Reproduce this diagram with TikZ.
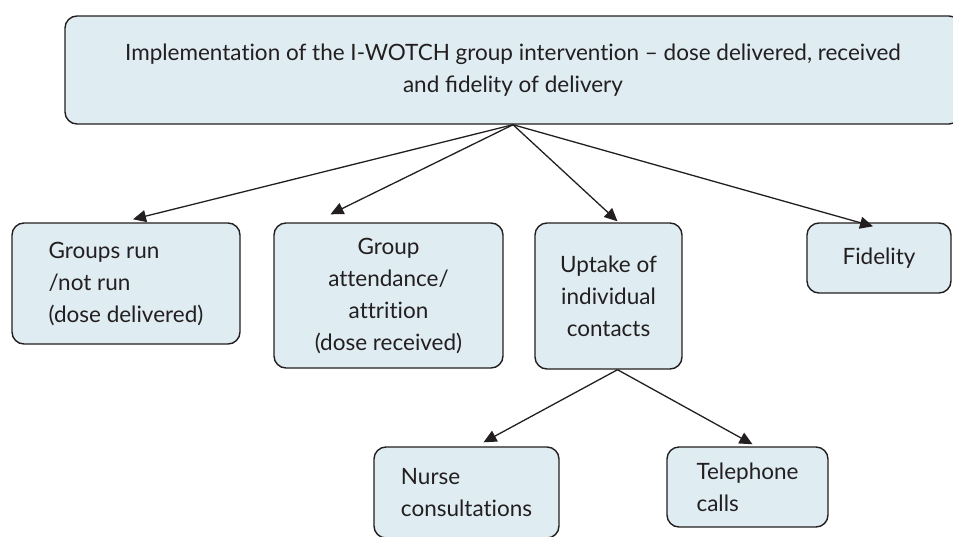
\documentclass[tikz,border=0pt]{standalone}
\usepackage{fontspec}
\setmainfont{Lato}[Ligatures=NoCommon]
\usetikzlibrary{arrows.meta}
\definecolor{boxfill}{RGB}{223,237,242}
\definecolor{boxline}{RGB}{35,31,32}
\begin{document}
\begin{tikzpicture}[x=1pt,y=-1pt,
    box/.style={draw=boxline, line width=1.4pt, fill=boxfill, rounded corners=12pt,
      inner sep=0pt, font=\fontsize{22.5}{32}\selectfont, text=boxline},
    link/.style={line width=1.3pt, draw=boxline, -{Triangle[length=13pt,width=12pt]}}]
    \useasboundingbox (0,0) rectangle (953,536);
    % top box, cut at the right edge
    \node[box, minimum width=896pt, minimum height=108pt, align=center] (impl) at (513,70)
      {Implementation of the I-WOTCH group intervention -- dose delivered, received\\
       and ﬁdelity of delivery};
    % first row
    \node[box, minimum width=228pt, minimum height=121pt, align=left] (groups) at (126,283.5)
      {Groups run\\/not run\\(dose delivered)};
    \node[box, minimum width=229pt, minimum height=145pt, align=center] (attend) at (388.5,295.5)
      {Group\\attendance/\\attrition\\(dose received)};
    \node[box, minimum width=147pt, minimum height=146pt, align=center] (uptake) at (608.5,296)
      {Uptake of\\individual\\contacts};
    \node[box, minimum width=144pt, minimum height=70pt, align=center] (fidel) at (879,258)
      {Fidelity};
    % second row
    \node[box, minimum width=185pt, minimum height=91pt, align=left] (nurse) at (466.5,492.5)
      {Nurse\\consultations};
    \node[box, minimum width=161pt, minimum height=80pt, align=left] (phone) at (747.5,487)
      {Telephone\\calls};
    % connectors
    \draw[link] (impl.south) -- ([xshift=7pt,yshift=3pt]groups.north);
    \draw[link] (impl.south) -- ([xshift=-58pt,yshift=8pt]attend.north);
    \draw[link] (impl.south) -- ([xshift=9pt,yshift=1pt]uptake.north);
    \draw[link] (impl.south) -- ([xshift=-6pt,yshift=-4pt]fidel.north);
    \draw[link] ([xshift=9pt]uptake.south) -- ([xshift=17pt,yshift=4pt]nurse.north);
    \draw[link] ([xshift=9pt]uptake.south) -- ([xshift=5pt,yshift=2pt]phone.north);
\end{tikzpicture}
\end{document}
